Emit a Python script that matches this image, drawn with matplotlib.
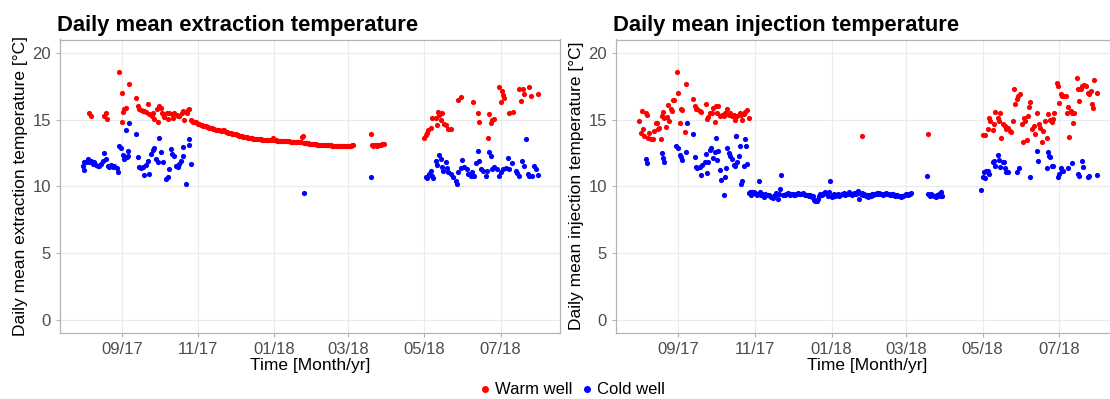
import numpy as np
import pandas as pd
import matplotlib
matplotlib.use('Agg')
import matplotlib.pyplot as plt
import matplotlib.dates as mdates
from matplotlib.lines import Line2D

plt.rcParams['font.family'] = ['Liberation Sans', 'DejaVu Sans']

# days counted from 2017-08-01
start = pd.Timestamp('2017-08-01')

# ---- extraction, warm well ----
ext_warm_days = ([5, 6, 17, 18, 19, 29, 31, 31, 32, 33, 34, 37, 42,
                  44, 45, 46, 48, 49, 50, 52, 53, 55, 56, 57, 59, 60, 61, 62, 63, 64, 65,
                  67, 68, 69, 71, 72, 73, 75, 76, 77, 79, 80, 81, 83, 84, 85]
                 + list(range(86, 217))
                 + list(range(230, 242))
                 + [273, 274, 275, 276, 278, 279, 282, 283, 284, 285, 286, 287, 289, 290,
                    292, 294, 300, 302, 312, 316, 317, 324, 325, 326, 327, 329, 333, 334,
                    335, 336, 337, 341, 344, 349, 350, 352, 353, 357, 358, 364])
ext_warm_temp = ([15.5, 15.3, 15.25, 15.5, 15.05, 18.6, 17.0, 14.8, 15.6, 15.8, 15.85, 17.7, 16.6,
                  16.0, 15.81, 15.72, 15.64, 15.64, 15.57, 16.14, 15.39, 15.27, 15.47, 15.07,
                  15.81, 14.84, 16.0, 15.89, 15.52, 15.39, 15.22, 15.52, 15.07, 15.47, 15.39,
                  15.14, 15.52, 15.32, 15.27, 15.27, 15.52, 15.64, 14.97, 15.52, 15.72, 15.77]
                 + [14.95, 14.9, 14.85, 14.8, 14.78,
                    14.75, 14.7, 14.65, 14.62, 14.58, 14.55, 14.52, 14.5, 14.45, 14.42,
                    14.4, 14.38, 14.35, 14.3, 14.28, 14.25, 14.22, 14.2, 14.18, 14.15,
                    14.15, 14.25, 14.22, 14.1, 14.05, 14.02, 14.0, 13.97, 13.95, 13.92,
                    13.9, 13.88, 13.85, 13.82, 13.8, 13.78, 13.75, 13.72, 13.7, 13.68,
                    13.66, 13.64, 13.62, 13.6, 13.58, 13.57, 13.56, 13.55, 13.54, 13.53,
                    13.52, 13.51, 13.5, 13.5, 13.49, 13.48, 13.48, 13.47, 13.46, 13.45,
                    13.45, 13.62, 13.44, 13.43, 13.42, 13.42, 13.41, 13.4, 13.4, 13.39,
                    13.38, 13.38, 13.37, 13.36, 13.36, 13.35, 13.34, 13.33, 13.32, 13.31,
                    13.3, 13.3, 13.29, 13.28, 13.72, 13.8, 13.27, 13.25, 13.24, 13.22,
                    13.2, 13.19, 13.17, 13.16, 13.15, 13.14, 13.12, 13.11, 13.1, 13.1,
                    13.09, 13.08, 13.08, 13.07, 13.07, 13.06, 13.06, 13.06, 13.05, 13.05,
                    13.05, 13.05, 13.05, 13.05, 13.05, 13.05, 13.05, 13.05, 13.05, 13.05,
                    13.05, 13.05, 13.05, 13.05, 13.06, 13.06]
                 + [13.9, 13.08, 13.05, 13.1, 13.1, 13.05, 13.08, 13.08, 13.1, 13.13, 13.18, 13.15]
                 + [13.6, 13.83, 13.98, 14.18, 14.35, 15.12, 15.09, 14.57, 15.57, 15.34, 14.94,
                    15.47, 14.64, 14.57, 14.27, 14.27, 16.5, 16.68, 16.31, 15.52, 14.82, 13.65,
                    15.39, 14.77, 14.94, 15.07, 17.45, 16.28, 17.13, 16.83, 16.63, 15.47, 15.59,
                    17.3, 16.38, 17.3, 16.95, 17.45, 16.8, 16.95])

# ---- extraction, cold well ----
ext_cold_days = [0, 1, 1, 2, 4, 5, 6, 8, 9, 10, 12, 13, 14, 16, 17, 18, 20, 21, 22, 24,
                 25, 27, 28, 29, 30, 32, 33, 34, 35, 36, 36, 37, 42, 44, 45, 46, 48, 49, 50,
                 52, 53, 54, 56, 57, 58, 60, 61, 62, 64, 66, 68, 69, 70, 71, 73, 74, 76, 77,
                 78, 80, 80, 82, 85, 85, 86,
                 177, 230,
                 274, 275, 277, 278, 279, 280, 282, 283, 285, 286, 287, 288, 290, 291, 292,
                 294, 296, 298, 299, 300, 302, 303, 305, 307, 308, 310, 311, 313, 314, 316,
                 317, 318, 320, 322, 323, 325, 326, 327, 329, 331, 333, 334, 336, 338, 340,
                 341, 343, 346, 347, 349, 351, 353, 354, 356, 357, 359, 361, 362, 364]
ext_cold_temp = [11.54, 11.85, 11.24, 11.79, 12.04, 11.79, 11.91, 11.67, 11.79, 11.59, 11.49,
                 11.54, 11.67, 11.91, 12.46, 12.04, 11.54, 11.42, 11.59, 11.42, 11.49, 11.34,
                 11.1, 12.98, 12.86, 12.33, 12.04, 14.2, 12.16, 12.29, 12.61, 14.77, 13.9,
                 12.21, 11.42, 11.34, 11.42, 10.87, 11.59, 11.91, 10.92, 12.41, 12.71, 12.83,
                 12.04, 11.79, 13.6, 12.53, 11.79, 10.55, 10.68, 11.29, 12.78, 12.41, 12.29,
                 11.54, 11.42, 11.67, 11.91, 12.95, 12.29, 10.18, 13.53, 13.08, 11.67,
                 9.5, 10.7,
                 10.68, 10.63, 10.92, 11.17, 10.8, 10.6, 11.91, 11.59, 12.33, 12.04, 11.47,
                 11.17, 11.79, 11.34, 11.05, 10.92, 10.68, 10.43, 10.18, 11.05, 11.34, 11.96,
                 11.42, 11.29, 10.92, 10.75, 11.05, 10.8, 11.74, 12.61, 11.91, 11.29, 11.17,
                 10.8, 11.17, 12.53, 12.24, 11.29, 11.47, 11.29, 10.75, 11.05, 11.29, 11.34,
                 12.11, 11.29, 11.74, 11.17, 10.97, 10.8, 11.91, 11.49, 13.53, 10.92, 10.75,
                 10.8, 11.49, 11.29, 10.87]

# ---- injection, warm well ----
inj_warm_days = [0, 1, 2, 3, 4, 5, 6, 7, 8, 9, 11, 12, 13, 14, 15, 16, 17, 18, 19, 20, 21,
                 22, 23, 24, 25, 26, 27, 28, 30, 31, 32, 33, 34, 36, 37, 43, 44, 45, 46, 48,
                 49, 53, 54, 55, 56, 58, 59, 60, 61, 62, 63, 64, 66, 67, 68, 70, 71, 72, 74,
                 75, 76, 77, 78, 80, 81, 82, 83, 84, 86, 87,
                 177, 230,
                 273, 275, 277, 278, 279, 281, 282, 283, 285, 286, 287, 288, 289, 291, 292,
                 293, 295, 296, 297, 298, 299, 300, 301, 303, 304, 305, 306, 307, 308, 309,
                 310, 311, 312, 314, 315, 316, 318, 319, 320, 321, 323, 324, 325, 327, 328,
                 329, 330, 332, 333, 334, 335, 336, 337, 339, 340, 341, 342, 343, 344, 345,
                 346, 348, 349, 350, 351, 352, 354, 355, 357, 358, 359, 360, 361, 362, 364]
inj_warm_temp = [14.89, 13.98, 15.64, 14.27, 13.78, 15.52, 15.32, 13.58, 13.98, 13.53, 13.53,
                 14.15, 14.72, 14.72, 14.32, 14.35, 13.53, 15.27, 15.59, 15.14, 14.45, 15.22,
                 16.06, 14.89, 15.77, 15.64, 16.45, 16.45, 18.57, 17.0, 14.77, 15.77, 15.72,
                 14.08, 17.7, 16.55, 16.0, 15.77, 15.77, 15.64, 15.59, 16.14, 15.07, 15.22,
                 15.47, 15.47, 15.89, 14.84, 16.0, 15.52, 16.0, 15.27, 15.32, 15.27, 15.52,
                 15.81, 15.32, 15.47, 15.27, 15.32, 14.97, 13.73, 15.27, 15.52, 15.32, 14.97,
                 15.39, 15.59, 15.72, 15.14,
                 13.8, 13.9,
                 13.85, 13.85, 14.32, 15.09, 14.89, 14.2, 14.64, 15.59, 15.14, 14.89, 15.52,
                 13.65, 14.64, 14.52, 14.27, 14.39, 14.15, 14.08, 14.89, 17.3, 16.18, 16.55,
                 16.75, 16.88, 14.64, 13.28, 15.14, 14.89, 13.48, 15.27, 15.96, 16.31, 14.27,
                 14.52, 13.9, 15.52, 14.64, 14.39, 13.28, 14.15, 14.89, 13.65, 15.39, 14.97,
                 14.82, 15.07, 15.47, 17.75, 17.5, 16.26, 16.88, 16.75, 16.75, 16.75, 15.52,
                 15.96, 13.7, 15.64, 15.52, 14.72, 15.52, 18.12, 17.3, 16.39, 17.3, 17.55,
                 17.62, 17.5, 17.0, 16.93, 17.13, 16.18, 15.89, 18.0, 17.0]

# ---- injection, cold well ----
inj_cold_days = ([5, 6, 18, 19, 20, 29, 31, 32, 33, 34, 37, 38, 43, 44, 45, 46, 48, 49, 50,
                  52, 53, 54, 55, 56, 57, 59, 60, 61, 62, 63, 64, 65, 67, 68, 69, 70, 71, 72,
                  74, 75, 76, 77, 78, 79, 80, 81, 82, 83, 84, 85, 86]
                 + list(range(87, 217))
                 + list(range(229, 242))
                 + [272, 273, 274, 275, 276, 277, 278, 281, 282, 283, 285, 286, 287, 289, 290,
                    291, 292, 293, 300, 302, 311, 316, 317, 324, 325, 326, 327, 328, 329, 333,
                    334, 335, 336, 337, 341, 344, 349, 350, 352, 353, 357, 358, 364])
inj_cold_temp = ([12.04, 11.74, 12.46, 12.09, 11.84, 12.98, 12.83, 12.36, 12.16, 11.96, 12.59,
                  14.72, 13.9, 12.21, 11.42, 11.34, 11.42, 10.85, 11.59, 11.79, 12.41, 10.97,
                  11.84, 12.73, 12.83, 12.11, 12.53, 13.58, 11.96, 12.66, 11.24, 10.5, 9.31,
                  10.68, 11.34, 12.83, 12.46, 12.29, 12.04, 11.59, 11.54, 13.73, 11.84, 12.29,
                  12.98, 10.18, 10.43, 11.54, 13.53, 12.98, 11.67]
                 + [9.51, 9.6, 9.36, 9.6, 9.56, 9.5, 9.43, 9.31, 10.4, 9.56,
                    9.36, 9.4, 9.23, 9.43, 9.35, 9.31, 9.36, 9.28, 9.18, 9.1,
                    9.3, 9.31, 9.51, 9.06, 9.43, 9.8, 10.85, 9.31, 9.38, 9.36,
                    9.4, 9.51, 9.45, 9.36, 9.4, 9.43, 9.35, 9.31, 9.4, 9.48,
                    9.45, 9.41, 9.45, 9.51, 9.4, 9.31, 9.35, 9.38, 9.3, 9.33,
                    9.2, 9.25, 9.0, 8.93, 8.86, 9.01, 9.3, 9.4, 9.36, 9.45,
                    9.5, 9.6, 9.4, 9.3, 9.56, 10.4, 9.2, 9.35, 9.4, 9.3,
                    9.38, 9.42, 9.3, 9.35, 9.45, 9.4, 9.5, 9.35, 9.45, 9.4,
                    9.55, 9.4, 9.35, 9.45, 9.5, 9.42, 9.55, 9.62, 9.06, 9.4,
                    9.5, 9.35, 9.45, 9.3, 9.35, 9.2, 9.38, 9.3, 9.4, 9.35,
                    9.45, 9.4, 9.48, 9.42, 9.5, 9.4, 9.45, 9.38, 9.42, 9.5,
                    9.45, 9.4, 9.38, 9.42, 9.35, 9.4, 9.3, 9.35, 9.38, 9.3,
                    9.25, 9.2, 9.28, 9.3, 9.35, 9.4, 9.45, 9.35, 9.42, 9.5]
                 + [10.75, 9.4, 9.3, 9.4, 9.35, 9.25, 9.3, 9.2, 9.35, 9.45, 9.3, 9.6, 9.3]
                 + [9.75, 10.68, 11.05, 10.6, 11.17, 11.17, 10.92, 11.79, 11.91, 11.54, 12.33,
                    11.96, 11.42, 11.79, 11.79, 11.34, 11.05, 11.1, 11.1, 11.34, 10.68, 12.61,
                    11.91, 11.34, 12.53, 12.29, 12.21, 11.49, 11.54, 10.68, 10.92, 11.34, 11.17,
                    11.12, 11.34, 11.71, 10.92, 10.8, 11.91, 11.42, 10.73, 10.8, 10.85])

panels = [
    ('Daily mean extraction temperature', 'Daily mean extraction temperature [°C]',
     ext_warm_days, ext_warm_temp, ext_cold_days, ext_cold_temp),
    ('Daily mean injection temperature', 'Daily mean injection temperature [°C]',
     inj_warm_days, inj_warm_temp, inj_cold_days, inj_cold_temp),
]

W, H = 1110, 399
fig = plt.figure(figsize=(W / 100, H / 100), dpi=100)
fig.patch.set_facecolor('white')

def px_axes(x0, x1, y0, y1):
    return fig.add_axes([x0 / W, 1 - y1 / H, (x1 - x0) / W, (y1 - y0) / H])

# the right panel runs past the right edge of the picture, as in the reference
boxes = [(60, 560, 39.5, 333), (616, 1119, 39.5, 333)]

def to_dates(days):
    return start + pd.to_timedelta(np.array(days), unit='D')

for (title, ylab, wd, wt, cd, ct), box in zip(panels, boxes):
    ax = px_axes(*box)
    ax.scatter(to_dates(wd), wt, s=14, color='red', linewidths=0, zorder=3)
    ax.scatter(to_dates(cd), ct, s=14, color='blue', linewidths=0, zorder=3)
    ax.set_ylim(-1, 21)
    ax.set_yticks([0, 5, 10, 15, 20])
    ax.set_xlim(start - pd.Timedelta(days=18.5), start + pd.Timedelta(days=381.5))
    ax.xaxis.set_major_locator(mdates.MonthLocator(bymonth=[1, 3, 5, 7, 9, 11]))
    ax.xaxis.set_major_formatter(mdates.DateFormatter('%m/%y'))
    ax.grid(True, color='#EBEBEB', linewidth=0.8, zorder=0)
    ax.set_axisbelow(True)
    for sp in ax.spines.values():
        sp.set_color('#B3B3B3')
        sp.set_linewidth(0.9)
    ax.tick_params(colors='#B3B3B3', labelcolor='#4D4D4D', labelsize=12, length=3, width=0.8)
    ax.set_xlabel('Time [Month/yr]', fontsize=12.5, labelpad=1)
    ax.set_ylabel(ylab, fontsize=12.5, labelpad=3)
    ax.set_title(title, loc='left', fontsize=15.8, fontweight='bold', pad=6, x=-0.006)

handles = [Line2D([], [], marker='o', linestyle='', color='red', markersize=4, label='Warm well'),
           Line2D([], [], marker='o', linestyle='', color='blue', markersize=4, label='Cold well')]
fig.legend(handles=handles, loc='center', bbox_to_anchor=(570 / W, 1 - 390 / H), ncol=2,
           frameon=False, fontsize=12, handletextpad=0.0, columnspacing=0.3, handlelength=1.2)

fig.savefig('out.png', dpi=100, facecolor='white')
